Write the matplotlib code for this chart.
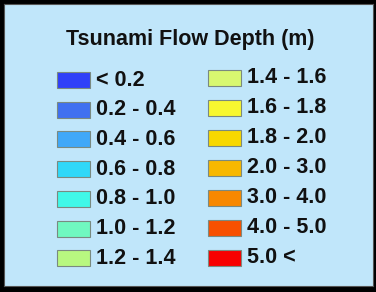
import matplotlib.pyplot as plt
from matplotlib.patches import Rectangle

title = "Tsunami Flow Depth (m)"
labels_left = ["< 0.2", "0.2 - 0.4", "0.4 - 0.6", "0.6 - 0.8", "0.8 - 1.0", "1.0 - 1.2", "1.2 - 1.4"]
colors_left = ["#3040F8", "#4070F0", "#40A8F8", "#30D8F8", "#40F8E8", "#70F8C0", "#B8F880"]
labels_right = ["1.4 - 1.6", "1.6 - 1.8", "1.8 - 2.0", "2.0 - 3.0", "3.0 - 4.0", "4.0 - 5.0", "5.0 <"]
colors_right = ["#D8F870", "#F8F830", "#F8D800", "#F8B800", "#F88800", "#F85000", "#F80000"]

W, H = 376, 292
fig = plt.figure(figsize=(W / 100, H / 100), dpi=100)
fig.patch.set_facecolor("black")
ax = fig.add_axes([4 / W, 6 / H, (W - 7) / W, (H - 10) / H])
ax.set_facecolor("#C0E6FA")
ax.set_xlim(4, W - 3)
ax.set_ylim(H - 6, 4)
ax.set_xticks([])
ax.set_yticks([])
for s in ax.spines.values():
    s.set_edgecolor("#555555")
    s.set_linewidth(0.8)

font = dict(family="Liberation Sans", weight="bold", fontsize=15.5, color="#111111")

ax.text(190, 39, title, ha="center", va="center", **font)

# columns: swatch x, text x, first row centre, row step
cols = [(57, 96, 80, 29.7, labels_left, colors_left),
        (208, 247, 77.5, 30.0, labels_right, colors_right)]
for sx, tx, y0, dy, labs, cols_ in cols:
    for i, (lab, c) in enumerate(zip(labs, cols_)):
        yc = y0 + i * dy
        ax.add_patch(Rectangle((sx, yc - 8), 33, 16, facecolor=c,
                               edgecolor="#7a8a80", linewidth=0.8))
        ax.text(tx, yc, lab, ha="left", va="center", **font)

fig.savefig("out.png", dpi=100, facecolor=fig.get_facecolor())
